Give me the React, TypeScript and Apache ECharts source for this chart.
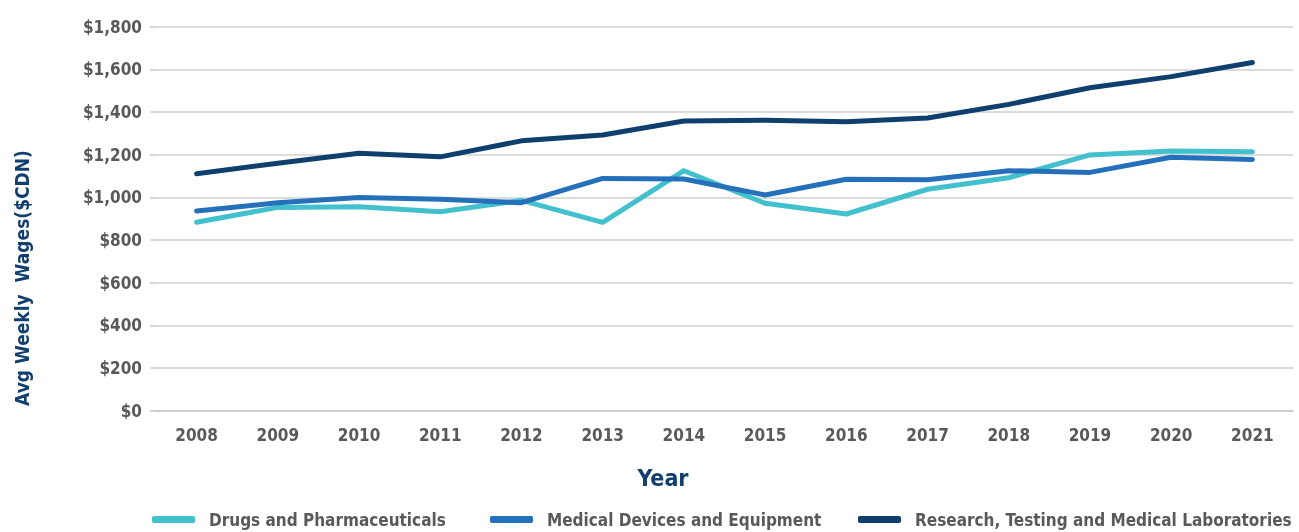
import React, { useEffect, useRef } from "react";
import * as echarts from "echarts";

const years = ["2008","2009","2010","2011","2012","2013","2014","2015","2016","2017","2018","2019","2020","2021"];
const drugs = [883, 953, 956, 933, 986, 883, 1125, 972, 922, 1038, 1092, 1199, 1217, 1214];
const medical = [936, 975, 999, 991, 975, 1089, 1086, 1011, 1085, 1083, 1125, 1117, 1188, 1178];
const research = [1111, 1160, 1207, 1190, 1265, 1292, 1358, 1362, 1354, 1372, 1436, 1514, 1566, 1632];
const seriesNames = ["Drugs and Pharmaceuticals", "Medical Devices and Equipment", "Research, Testing and Medical Laboratories"];
const colors = ["#42C0CD", "#2470BA", "#0F3F6D"];
const legendLefts = [152, 490, 858];

const FONT = "'DejaVu Sans Condensed', 'Liberation Sans Narrow', sans-serif";

export default function App() {
  const ref = useRef<HTMLDivElement>(null);
  useEffect(() => {
    if (!ref.current) return;
    const chart = echarts.init(ref.current, null, { renderer: "svg" });
    const dataSets = [drugs, medical, research];
    chart.setOption({
      animation: false,
      color: colors,
      textStyle: { fontFamily: FONT },
      grid: { left: 156, right: 6, top: 26.7, bottom: 121.3, containLabel: false },
      legend: seriesNames.map((name, i) => ({
        data: [name],
        left: legendLefts[i],
        top: 511,
        padding: 0,
        icon: "roundRect",
        itemWidth: 43,
        itemHeight: 7,
        textStyle: { fontFamily: FONT, fontWeight: "bold", fontSize: 17, color: "#595959", padding: [0, 0, 0, 9] },
      })),
      xAxis: {
        type: "category",
        data: years,
        boundaryGap: true,
        axisLine: { show: true, lineStyle: { color: "#C8C8C8", width: 1.5 } },
        axisTick: { show: false },
        axisLabel: { color: "#595959", fontFamily: FONT, fontWeight: "bold", fontSize: 17, margin: 16 },
      },
      yAxis: {
        type: "value",
        min: 0,
        max: 1800,
        interval: 200,
        axisLine: { show: false },
        axisTick: { show: true, length: 6, lineStyle: { color: "#C8C8C8", width: 1.5 } },
        splitLine: { lineStyle: { color: "#D0D0D0", width: 1.5 } },
        axisLabel: {
          color: "#595959",
          fontFamily: FONT,
          fontWeight: "bold",
          fontSize: 17,
          margin: 14,
          formatter: (v: number) => "$" + v.toLocaleString("en-US"),
        },
      },
      graphic: [
        {
          type: "text",
          x: 22,
          y: 278,
          rotation: Math.PI / 2,
          style: {
            text: "Avg Weekly  Wages($CDN)",
            fill: "#123F6E",
            font: "bold 19px " + FONT,
            align: "center",
            verticalAlign: "middle",
          },
        },
        {
          type: "text",
          x: 663,
          y: 478,
          style: {
            text: "Year",
            fill: "#123F6E",
            font: "bold 23px " + FONT,
            align: "center",
            verticalAlign: "middle",
          },
        },
      ],
      series: seriesNames.map((name, i) => ({
        name,
        type: "line",
        data: dataSets[i],
        symbol: "none",
        smooth: false,
        lineStyle: { width: 5, color: colors[i], cap: "round", join: "round" },
        z: 3 + i,
      })),
    });
    return () => chart.dispose();
  }, []);
  return <div ref={ref} style={{ position: "fixed", left: 0, top: 0, width: 1299, height: 532 }} />;
}
